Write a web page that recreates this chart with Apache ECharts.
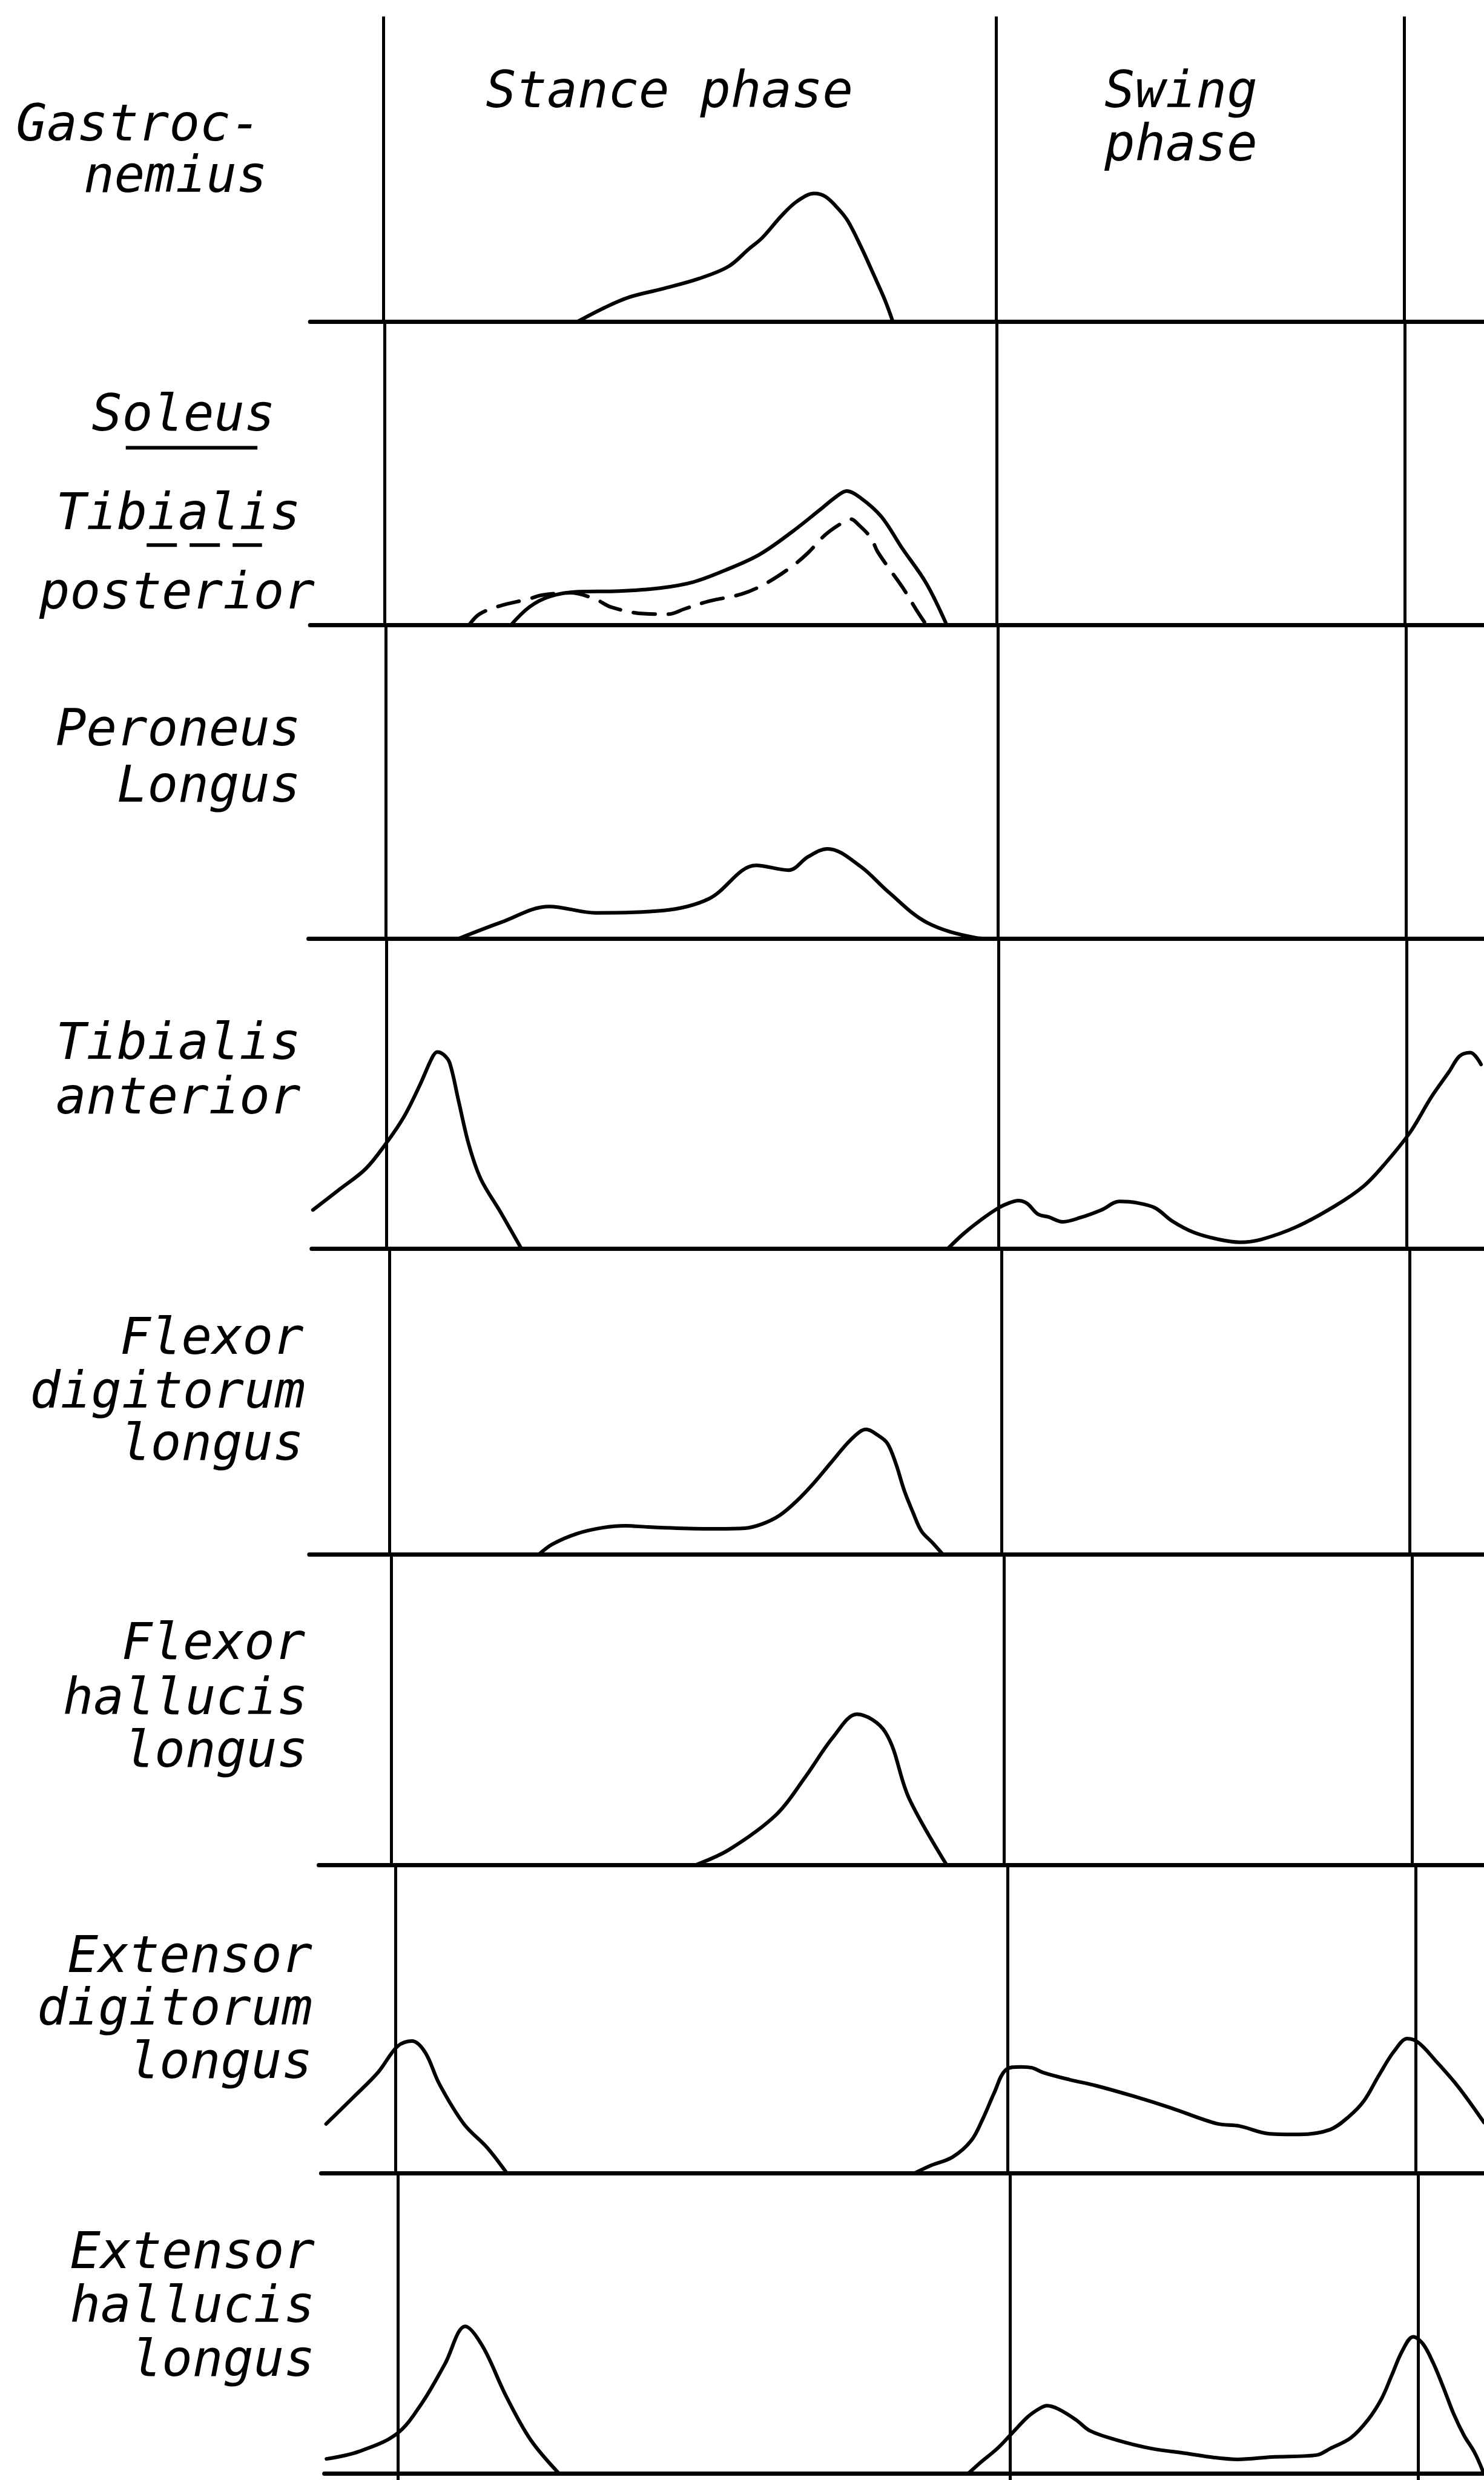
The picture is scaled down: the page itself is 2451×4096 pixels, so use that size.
<!DOCTYPE html>
<html><head><meta charset="utf-8">
<script src="https://cdn.jsdelivr.net/npm/echarts@6/dist/echarts.min.js"></script>
<style>html,body{margin:0;padding:0;background:#fff}#c{width:2451px;height:4096px}</style>
</head><body><div id="c"></div>
<script>
// ---------------- data: x = % of gait cycle, y = EMG activity (relative units) ----------------
const phaseBoundaries = [0, 60, 100];
const phaseTitles = ['Stance phase', 'Swing', 'phase'];
const muscleNames = [
  ['Gastroc-', 'nemius'],
  ['Soleus', 'Tibialis', 'posterior'],
  ['Peroneus', 'Longus'],
  ['Tibialis', 'anterior'],
  ['Flexor', 'digitorum', 'longus'],
  ['Flexor', 'hallucis', 'longus'],
  ['Extensor', 'digitorum', 'longus'],
  ['Extensor', 'hallucis', 'longus']
];
const gastrocnemius = [[19.0,0],[21.7,9],[24.1,15.5],[27.3,20.7],[30.9,27.2],[33.8,34.9],[35.8,46],[37.1,53],[39.0,67],[40.5,76],[42.2,81],[43.3,79],[44.6,71],[45.5,63.5],[46.8,47],[48.0,30],[49.1,14],[49.9,0]];
const soleus = [[12.4,0],[14.2,11.3],[16.2,18],[19.0,21],[23.0,21.4],[27.0,23.3],[30.2,27],[33.4,34.6],[36.7,44.3],[39.9,58.6],[42.7,72.9],[44.3,81.2],[45.3,84.6],[46.7,80.1],[48.7,68.4],[50.7,48.8],[53.1,26.3],[55.1,0]];
const tibialisPosterior = [[8.3,0],[9.3,6.8],[11.3,12],[14.2,16.5],[15.4,18.8],[18.2,20.3],[20.6,16.5],[22.2,11.3],[25.4,7.1],[27.8,6.8],[29.4,10.1],[31.8,15],[35.0,19.5],[37.4,26.3],[39.9,36.8],[41.5,45.5],[43.1,56.4],[44.7,63.9],[45.7,66.9],[46.5,63.1],[47.7,54.8],[48.3,46.6],[49.5,35.3],[50.9,22.5],[52.1,9.8],[53.1,0]];
const peroneusLongus = [[7.1,0],[11.3,10.4],[16.0,20.4],[20.6,16.4],[27.1,17.8],[31.7,25.4],[36.3,46.4],[39.5,43.4],[41.4,51.9],[43.3,56.9],[46.5,45.9],[49.3,29.4],[53.0,10.4],[57.7,0.8],[59.5,0]];
const tibialisAnteriorEarly = [[-7.21,24.5],[-4.53,37.9],[-2.06,50.4],[-0.11,66],[1.71,83.4],[3.3,103.9],[4.47,120.8],[4.96,124.4],[5.61,122.6],[6.2,117.3],[7.07,93.2],[8.08,65.5],[9.24,44.1],[11.13,23.6],[13.22,0]];
const tibialisAnteriorLate = [[55.0,0],[56.53,9.4],[58.26,18.3],[60.0,25.9],[61.04,29],[61.91,30.4],[62.78,28.6],[63.83,21.9],[64.87,20.1],[66.26,17],[68.0,19.7],[70.08,24.6],[71.81,29.9],[73.55,29],[75.29,25.9],[77.02,17.4],[79.12,10.3],[81.55,5.9],[83.63,4.1],[85.72,5.9],[89.19,13.9],[93.01,27.3],[95.78,39.7],[97.88,54],[100.31,73.6],[102.39,95.9],[104.14,112],[105.16,121.8],[106.22,124],[107.26,116.5]];
const flexorDigitorumLongus = [[14.67,0],[16.0,6.5],[18.43,13.2],[20.93,16.9],[23.16,18.1],[25.4,17.3],[28.19,16.6],[32.09,16.2],[34.88,16.6],[36.54,19.2],[38.22,24.5],[39.89,33.5],[41.57,44.8],[43.24,57.6],[44.91,70.3],[46.03,77.1],[46.73,79.0],[47.83,75.6],[48.81,70.3],[49.64,57.6],[50.48,40.3],[51.32,26.7],[52.16,14.7],[53.27,7.2],[54.25,0]];
const flexorHallucisLongus = [[29.8,0],[33.1,9.8],[37.7,31.8],[40.5,55.2],[43.3,81.1],[45.6,95.3],[48.4,83.8],[50.7,42.3],[54.4,0]];
const extensorDigitorumEarly = [[-6.8,31],[-4.0,48.7],[-1.7,63.7],[0.2,80.1],[1.6,83.4],[2.9,76.3],[4.3,56.2],[6.7,31],[9.0,15.9],[10.9,0]];
const extensorDigitorumLate = [[50.9,0],[52.37,4.5],[54.59,10.1],[56.43,20.6],[57.55,34.2],[58.67,50.7],[59.77,65],[61.26,67.1],[62.36,66.5],[63.47,63.5],[66.06,59],[68.65,55.2],[72.34,48.5],[76.05,41],[80.48,31.2],[82.7,29.7],[85.66,24.8],[88.62,24.4],[91.57,27.4],[93.43,35.7],[94.89,45.5],[96.39,62],[97.86,77],[99.16,84.9],[100.26,82.3],[101.92,71],[104.14,54.5],[106.67,31.9]];
const extensorHallucisEarly = [[-7.0,9.3],[-3.8,14],[-0.1,25.2],[2.3,44],[4.6,69.2],[6.6,93.1],[8.3,80.5],[10.6,49],[13.0,21.4],[15.8,0]];
const extensorHallucisLate = [[55.88,0],[57.05,6.8],[58.73,15.8],[60.08,24.8],[61.77,36.1],[62.95,41.4],[63.61,42.9],[64.79,40.6],[66.47,33.9],[67.81,27.1],[70.51,21.1],[73.88,15.8],[77.24,12.8],[79.92,10.2],[82.28,9],[85.64,10.5],[90.02,11.7],[91.36,15.8],[93.38,22.6],[95.05,33.9],[96.4,47.4],[97.41,62.4],[98.42,77.5],[99.5,86.5],[100.45,82],[101.46,69.9],[102.47,54.2],[103.47,37.6],[104.48,24.1],[105.49,13.6],[106.33,1.5]];

const panelSeries = [
  [{d: gastrocnemius}],
  [{d: soleus}, {d: tibialisPosterior, dashed: true}],
  [{d: peroneusLongus}],
  [{d: tibialisAnteriorEarly}, {d: tibialisAnteriorLate}],
  [{d: flexorDigitorumLongus}],
  [{d: flexorHallucisLongus}],
  [{d: extensorDigitorumEarly}, {d: extensorDigitorumLate}],
  [{d: extensorHallucisEarly}, {d: extensorHallucisLate}]
];

// ---------------- layout (reference units, scaled by S) ----------------
const W = 2451, H = 4096;
const S = W / 938;
const PCT = 6.45 * S;                  // px per % of gait cycle
const topY = 10.4;
const baselineY = [203.3, 395, 593.4, 789.3, 982.5, 1178.8, 1373.5, 1563.5];
const lineX0 = [242.5, 243, 243.8, 244.3, 246, 247.5, 250, 251.5];
const axisLeft = [196, 196, 195, 197, 195.5, 201.5, 203, 205];
const FONT = 84;
const TEXT_DY = 0.21;
const labelPos = [
  [[165, 87], [169, 119.7]],
  [[174, 270.5], [190, 333], [199, 383]],
  [[190, 469.6], [190, 505]],
  [[190, 667.7], [190, 702]],
  [[192, 854], [193, 888], [192, 921]],
  [[193, 1047], [194.5, 1082], [194.5, 1115]],
  [[197.5, 1245], [197.5, 1278], [197.5, 1312]],
  [[199, 1432], [199, 1466], [199, 1500]]
];
const titlePos = [[307, 66], [698, 66], [698, 100]];

const grids = [], xAxes = [], yAxes = [], series = [];
for (let i = 0; i < 8; i++) {
  const top = (i === 0 ? topY : baselineY[i - 1]) * S;
  const base = baselineY[i] * S;
  const bottom = (i === 7) ? H : base;
  const left = axisLeft[i] * S;
  const x0 = lineX0[i] * S;
  grids.push({left: left, right: 0, top: top, height: bottom - top});
  xAxes.push({
    type: 'value', gridIndex: i,
    min: (left - x0) / PCT, max: (W - x0) / PCT,
    axisLine: {show: true, onZero: true, lineStyle: {color: '#000', width: 7}},
    axisTick: {show: false}, axisLabel: {show: false}, splitLine: {show: false}
  });
  yAxes.push({
    type: 'value', gridIndex: i,
    min: -(bottom - base) / S, max: (base - top) / S,
    show: false, splitLine: {show: false}
  });
  panelSeries[i].forEach((s, k) => {
    const ser = {
      type: 'line', xAxisIndex: i, yAxisIndex: i, data: s.d,
      smooth: 0.35, showSymbol: false, symbol: 'none', silent: true, animation: false,
      lineStyle: {color: '#000', width: 6, type: s.dashed ? [36, 22] : 'solid', cap: 'round', join: 'round'}
    };
    if (k === 0) {
      ser.markLine = {
        silent: true, symbol: ['none', 'none'], animation: false,
        label: {show: false},
        lineStyle: {color: '#000', width: 5, type: 'solid'},
        data: phaseBoundaries.map(v => ({xAxis: v}))
      };
    }
    series.push(ser);
  });
}

const graphic = [];
const txt = (t, x, y, align) => ({
  type: 'text', x: x, y: y, silent: true,
  style: {text: t, fill: '#000', font: 'italic ' + FONT + 'px "DejaVu Sans Mono"',
          textAlign: align, textVerticalAlign: 'middle', align: align, verticalAlign: 'middle'}
});
muscleNames.forEach((lines, i) => {
  lines.forEach((t, j) => {
    const p = labelPos[i][j];
    graphic.push(txt(t, p[0] * S, p[1] * S - TEXT_DY * FONT, 'right'));
  });
});
phaseTitles.forEach((t, j) => {
  const p = titlePos[j];
  graphic.push(txt(t, p[0] * S, p[1] * S - TEXT_DY * FONT, 'left'));
});
// legend marks: solid under "Soleus", dashed under "Tibialis"
graphic.push({type: 'line', silent: true, shape: {x1: 79.5 * S, y1: 283 * S, x2: 162.7 * S, y2: 283 * S},
  style: {stroke: '#000', lineWidth: 6}});
graphic.push({type: 'line', silent: true, shape: {x1: 92.7 * S, y1: 344.5 * S, x2: 165.6 * S, y2: 344.5 * S},
  style: {stroke: '#000', lineWidth: 6, lineDash: [50, 21]}});

const chart = echarts.init(document.getElementById('c'), null, {renderer: 'canvas', width: W, height: H});
chart.setOption({
  backgroundColor: '#fff',
  animation: false,
  grid: grids, xAxis: xAxes, yAxis: yAxes, series: series, graphic: graphic
});
</script></body></html>
